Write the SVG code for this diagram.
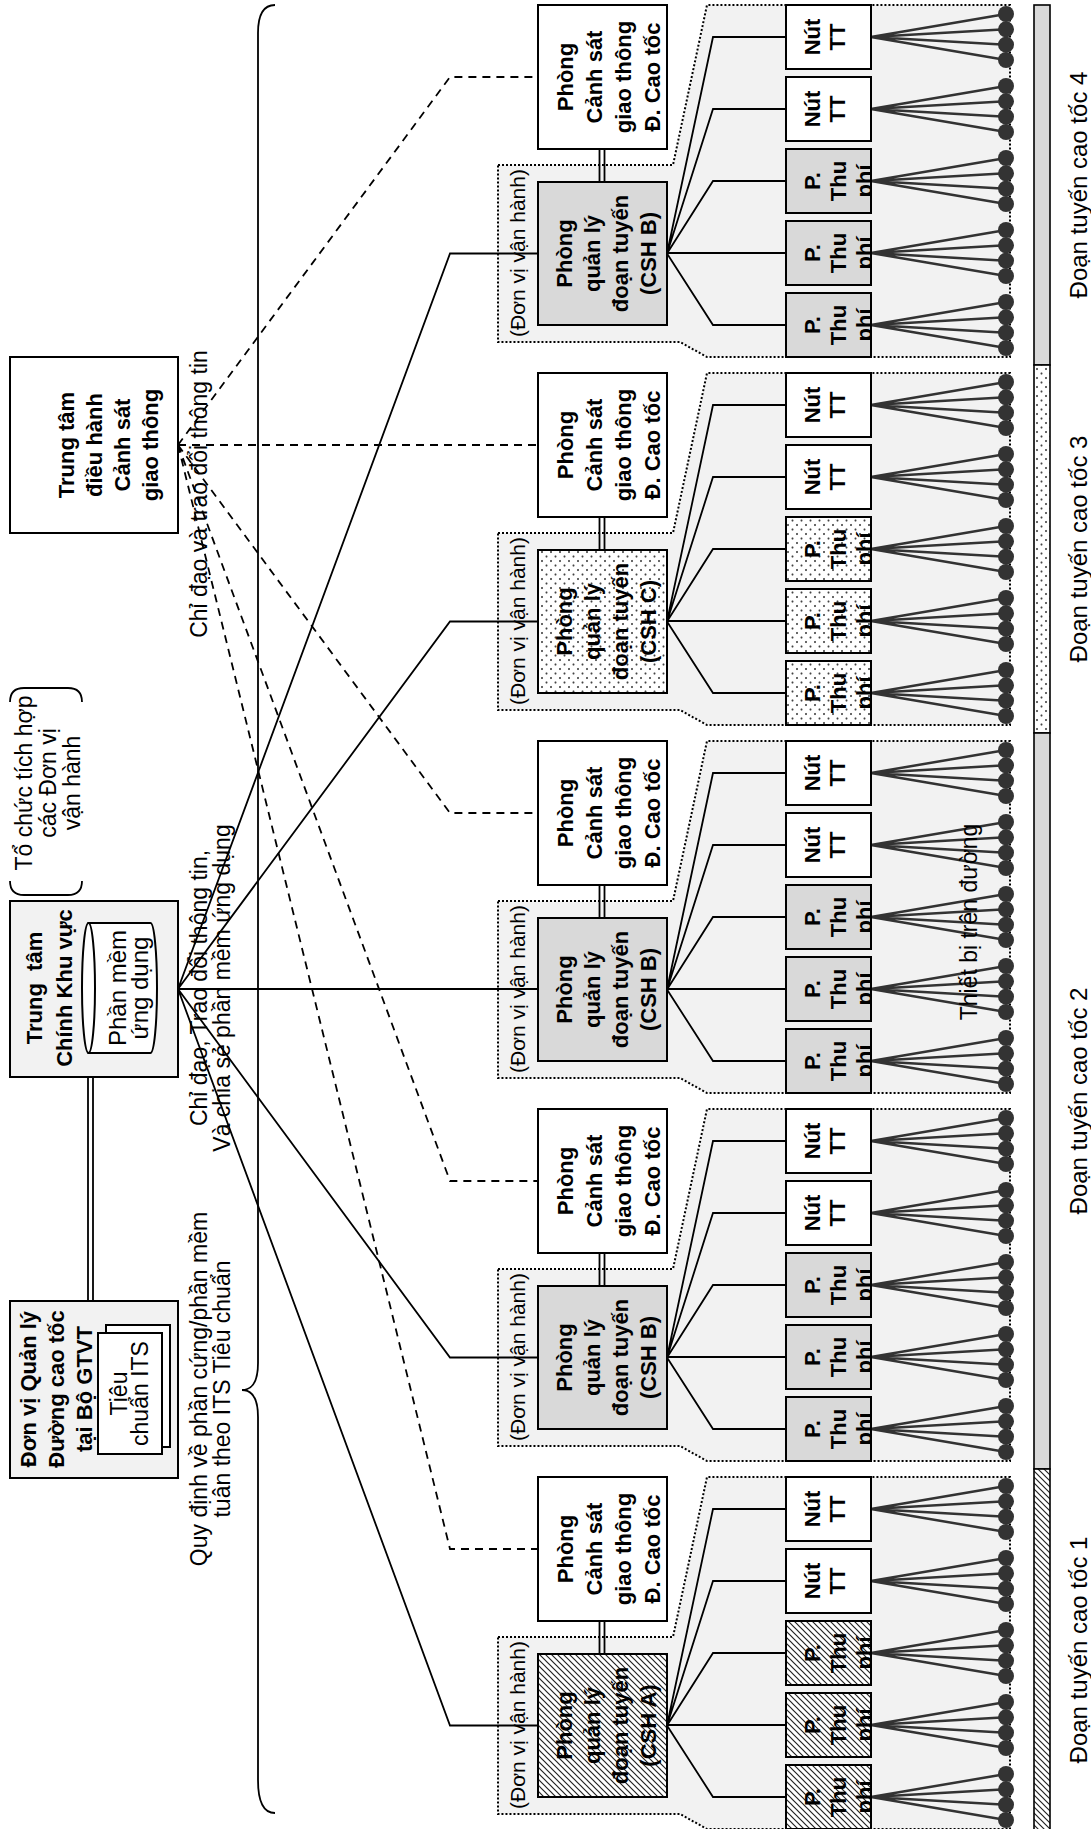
<svg xmlns="http://www.w3.org/2000/svg" width="1091" height="1829" viewBox="0 0 1091 1829">
<style>
text{font-family:"Liberation Sans",Arial,sans-serif;fill:#000;text-anchor:middle}
.b{font-size:22px;font-weight:bold}
.r{font-size:23px}
.r2{font-size:24px}
.s{font-size:21px}
.bx{stroke:#000;stroke-width:2}
.w{fill:#fff}
.g1{fill:#f2f2f2}
.g2{fill:#d9d9d9}
.ht{fill:url(#hatch)}
.dt{fill:url(#dots)}
.reg{fill:#f2f2f2;stroke:#000;stroke-width:2;stroke-dasharray:2 2}
.ln{fill:none;stroke:#000;stroke-width:1.8}
.da{stroke-dasharray:8 6}
.bar{stroke:#000;stroke-width:1.6}
</style>
<defs>
<pattern id="hatch" patternUnits="userSpaceOnUse" width="6" height="6">
<rect width="6" height="6" fill="#fff"/>
<path d="M0,6L6,0M-1.5,1.5L1.5,-1.5M4.5,7.5L7.5,4.5" stroke="#222" stroke-width="1.2"/>
</pattern>
<pattern id="dots" patternUnits="userSpaceOnUse" width="9" height="9">
<rect width="9" height="9" fill="#fff"/>
<circle cx="2" cy="2" r="1.1" fill="#444"/>
<circle cx="6.5" cy="6.5" r="1.1" fill="#444"/>
</pattern>
<clipPath id="devclip"><rect width="64" height="84"/></clipPath>
<g id="fan">
<path d="M32,85L9,220M32,85L24.3,220M32,85L39.7,220M32,85L55,220" stroke="#333" stroke-width="2.5" fill="none"/>
<circle cx="9" cy="220" r="8" fill="#333"/>
<circle cx="24.3" cy="220" r="8" fill="#333"/>
<circle cx="39.7" cy="220" r="8" fill="#333"/>
<circle cx="55" cy="220" r="8" fill="#333"/>
</g>
</defs>
<rect width="1091" height="1829" fill="#fff"/>
<g transform="matrix(0 -1 1 0 0 1829)">

<g id="sec-A" transform="translate(1472 0)">
<g id="unit-A"><polygon class="reg" points="192,498 192,673 352,707 352,1010 0,1010 0,707 15,680 15,498"/><text class="s" x="104" y="525">(Đơn vị vận hành)</text></g>
<g id="links-A"><path class="ln" d="M175,599.5H208M175,604.5H208M103.5,667L320,713V786M103.5,667L248,713V786M103.5,667L176,713V786M104,667V786M103.5,667L32,713V786"/>
<use href="#fan" x="288" y="786"/><use href="#fan" x="216" y="786"/><use href="#fan" x="144" y="786"/><use href="#fan" x="72" y="786"/><use href="#fan" x="0" y="786"/></g>
<g id="police-A"><rect class="bx w" x="208" y="538" width="144" height="129"/><text class="b" x="280" y="573">Phòng</text><text class="b" x="280" y="602">Cảnh sát</text><text class="b" x="280" y="631">giao thông</text><text class="b" x="280" y="660">Đ. Cao tốc</text></g>
<g id="mgmt-A"><rect class="bx g2" x="32" y="538" width="143" height="129"/><text class="b" x="103.5" y="572">Phòng</text><text class="b" x="103.5" y="600">quản lý</text><text class="b" x="103.5" y="628">đoạn tuyến</text><text class="b" x="103.5" y="656">(CSH B)</text></g>
<g id="A-n1" transform="translate(288 786)"><rect class="bx w" width="64" height="85"/><text class="b" x="32" y="34">Nút</text><text class="b" x="32" y="59">TT</text></g>
<g id="A-n2" transform="translate(216 786)"><rect class="bx w" width="64" height="85"/><text class="b" x="32" y="34">Nút</text><text class="b" x="32" y="59">TT</text></g>
<g id="A-p1" transform="translate(144 786)"><rect class="bx g2" width="64" height="85"/><g clip-path="url(#devclip)"><text class="b" x="32" y="34">P.</text><text class="b" x="32" y="60">Thu</text><text class="b" x="32" y="86">phí</text></g></g>
<g id="A-p2" transform="translate(72 786)"><rect class="bx g2" width="64" height="85"/><g clip-path="url(#devclip)"><text class="b" x="32" y="34">P.</text><text class="b" x="32" y="60">Thu</text><text class="b" x="32" y="86">phí</text></g></g>
<g id="A-p3" transform="translate(0 786)"><rect class="bx g2" width="64" height="85"/><g clip-path="url(#devclip)"><text class="b" x="32" y="34">P.</text><text class="b" x="32" y="60">Thu</text><text class="b" x="32" y="86">phí</text></g></g>
</g>

<g id="sec-B" transform="translate(1104 0)">
<g id="unit-B"><polygon class="reg" points="192,498 192,673 352,707 352,1010 0,1010 0,707 15,680 15,498"/><text class="s" x="104" y="525">(Đơn vị vận hành)</text></g>
<g id="links-B"><path class="ln" d="M175,599.5H208M175,604.5H208M103.5,667L320,713V786M103.5,667L248,713V786M103.5,667L176,713V786M104,667V786M103.5,667L32,713V786"/>
<use href="#fan" x="288" y="786"/><use href="#fan" x="216" y="786"/><use href="#fan" x="144" y="786"/><use href="#fan" x="72" y="786"/><use href="#fan" x="0" y="786"/></g>
<g id="police-B"><rect class="bx w" x="208" y="538" width="144" height="129"/><text class="b" x="280" y="573">Phòng</text><text class="b" x="280" y="602">Cảnh sát</text><text class="b" x="280" y="631">giao thông</text><text class="b" x="280" y="660">Đ. Cao tốc</text></g>
<g id="mgmt-B"><rect class="bx dt" x="32" y="538" width="143" height="129"/><text class="b" x="103.5" y="572">Phòng</text><text class="b" x="103.5" y="600">quản lý</text><text class="b" x="103.5" y="628">đoạn tuyến</text><text class="b" x="103.5" y="656">(CSH C)</text></g>
<g id="B-n1" transform="translate(288 786)"><rect class="bx w" width="64" height="85"/><text class="b" x="32" y="34">Nút</text><text class="b" x="32" y="59">TT</text></g>
<g id="B-n2" transform="translate(216 786)"><rect class="bx w" width="64" height="85"/><text class="b" x="32" y="34">Nút</text><text class="b" x="32" y="59">TT</text></g>
<g id="B-p1" transform="translate(144 786)"><rect class="bx dt" width="64" height="85"/><g clip-path="url(#devclip)"><text class="b" x="32" y="34">P.</text><text class="b" x="32" y="60">Thu</text><text class="b" x="32" y="86">phí</text></g></g>
<g id="B-p2" transform="translate(72 786)"><rect class="bx dt" width="64" height="85"/><g clip-path="url(#devclip)"><text class="b" x="32" y="34">P.</text><text class="b" x="32" y="60">Thu</text><text class="b" x="32" y="86">phí</text></g></g>
<g id="B-p3" transform="translate(0 786)"><rect class="bx dt" width="64" height="85"/><g clip-path="url(#devclip)"><text class="b" x="32" y="34">P.</text><text class="b" x="32" y="60">Thu</text><text class="b" x="32" y="86">phí</text></g></g>
</g>

<g id="sec-C" transform="translate(736 0)">
<g id="unit-C"><polygon class="reg" points="192,498 192,673 352,707 352,1010 0,1010 0,707 15,680 15,498"/><text class="s" x="104" y="525">(Đơn vị vận hành)</text></g>
<g id="links-C"><path class="ln" d="M175,599.5H208M175,604.5H208M103.5,667L320,713V786M103.5,667L248,713V786M103.5,667L176,713V786M104,667V786M103.5,667L32,713V786"/>
<use href="#fan" x="288" y="786"/><use href="#fan" x="216" y="786"/><use href="#fan" x="144" y="786"/><use href="#fan" x="72" y="786"/><use href="#fan" x="0" y="786"/></g>
<g id="police-C"><rect class="bx w" x="208" y="538" width="144" height="129"/><text class="b" x="280" y="573">Phòng</text><text class="b" x="280" y="602">Cảnh sát</text><text class="b" x="280" y="631">giao thông</text><text class="b" x="280" y="660">Đ. Cao tốc</text></g>
<g id="mgmt-C"><rect class="bx g2" x="32" y="538" width="143" height="129"/><text class="b" x="103.5" y="572">Phòng</text><text class="b" x="103.5" y="600">quản lý</text><text class="b" x="103.5" y="628">đoạn tuyến</text><text class="b" x="103.5" y="656">(CSH B)</text></g>
<g id="C-n1" transform="translate(288 786)"><rect class="bx w" width="64" height="85"/><text class="b" x="32" y="34">Nút</text><text class="b" x="32" y="59">TT</text></g>
<g id="C-n2" transform="translate(216 786)"><rect class="bx w" width="64" height="85"/><text class="b" x="32" y="34">Nút</text><text class="b" x="32" y="59">TT</text></g>
<g id="C-p1" transform="translate(144 786)"><rect class="bx g2" width="64" height="85"/><g clip-path="url(#devclip)"><text class="b" x="32" y="34">P.</text><text class="b" x="32" y="60">Thu</text><text class="b" x="32" y="86">phí</text></g></g>
<g id="C-p2" transform="translate(72 786)"><rect class="bx g2" width="64" height="85"/><g clip-path="url(#devclip)"><text class="b" x="32" y="34">P.</text><text class="b" x="32" y="60">Thu</text><text class="b" x="32" y="86">phí</text></g></g>
<g id="C-p3" transform="translate(0 786)"><rect class="bx g2" width="64" height="85"/><g clip-path="url(#devclip)"><text class="b" x="32" y="34">P.</text><text class="b" x="32" y="60">Thu</text><text class="b" x="32" y="86">phí</text></g></g>
</g>

<g id="sec-D" transform="translate(368 0)">
<g id="unit-D"><polygon class="reg" points="192,498 192,673 352,707 352,1010 0,1010 0,707 15,680 15,498"/><text class="s" x="104" y="525">(Đơn vị vận hành)</text></g>
<g id="links-D"><path class="ln" d="M175,599.5H208M175,604.5H208M103.5,667L320,713V786M103.5,667L248,713V786M103.5,667L176,713V786M104,667V786M103.5,667L32,713V786"/>
<use href="#fan" x="288" y="786"/><use href="#fan" x="216" y="786"/><use href="#fan" x="144" y="786"/><use href="#fan" x="72" y="786"/><use href="#fan" x="0" y="786"/></g>
<g id="police-D"><rect class="bx w" x="208" y="538" width="144" height="129"/><text class="b" x="280" y="573">Phòng</text><text class="b" x="280" y="602">Cảnh sát</text><text class="b" x="280" y="631">giao thông</text><text class="b" x="280" y="660">Đ. Cao tốc</text></g>
<g id="mgmt-D"><rect class="bx g2" x="32" y="538" width="143" height="129"/><text class="b" x="103.5" y="572">Phòng</text><text class="b" x="103.5" y="600">quản lý</text><text class="b" x="103.5" y="628">đoạn tuyến</text><text class="b" x="103.5" y="656">(CSH B)</text></g>
<g id="D-n1" transform="translate(288 786)"><rect class="bx w" width="64" height="85"/><text class="b" x="32" y="34">Nút</text><text class="b" x="32" y="59">TT</text></g>
<g id="D-n2" transform="translate(216 786)"><rect class="bx w" width="64" height="85"/><text class="b" x="32" y="34">Nút</text><text class="b" x="32" y="59">TT</text></g>
<g id="D-p1" transform="translate(144 786)"><rect class="bx g2" width="64" height="85"/><g clip-path="url(#devclip)"><text class="b" x="32" y="34">P.</text><text class="b" x="32" y="60">Thu</text><text class="b" x="32" y="86">phí</text></g></g>
<g id="D-p2" transform="translate(72 786)"><rect class="bx g2" width="64" height="85"/><g clip-path="url(#devclip)"><text class="b" x="32" y="34">P.</text><text class="b" x="32" y="60">Thu</text><text class="b" x="32" y="86">phí</text></g></g>
<g id="D-p3" transform="translate(0 786)"><rect class="bx g2" width="64" height="85"/><g clip-path="url(#devclip)"><text class="b" x="32" y="34">P.</text><text class="b" x="32" y="60">Thu</text><text class="b" x="32" y="86">phí</text></g></g>
</g>

<g id="sec-E" transform="translate(0 0)">
<g id="unit-E"><polygon class="reg" points="192,498 192,673 352,707 352,1010 0,1010 0,707 15,680 15,498"/><text class="s" x="104" y="525">(Đơn vị vận hành)</text></g>
<g id="links-E"><path class="ln" d="M175,599.5H208M175,604.5H208M103.5,667L320,713V786M103.5,667L248,713V786M103.5,667L176,713V786M104,667V786M103.5,667L32,713V786"/>
<use href="#fan" x="288" y="786"/><use href="#fan" x="216" y="786"/><use href="#fan" x="144" y="786"/><use href="#fan" x="72" y="786"/><use href="#fan" x="0" y="786"/></g>
<g id="police-E"><rect class="bx w" x="208" y="538" width="144" height="129"/><text class="b" x="280" y="573">Phòng</text><text class="b" x="280" y="602">Cảnh sát</text><text class="b" x="280" y="631">giao thông</text><text class="b" x="280" y="660">Đ. Cao tốc</text></g>
<g id="mgmt-E"><rect class="bx ht" x="32" y="538" width="143" height="129"/><text class="b" x="103.5" y="572">Phòng</text><text class="b" x="103.5" y="600">quản lý</text><text class="b" x="103.5" y="628">đoạn tuyến</text><text class="b" x="103.5" y="656">(CSH A)</text></g>
<g id="E-n1" transform="translate(288 786)"><rect class="bx w" width="64" height="85"/><text class="b" x="32" y="34">Nút</text><text class="b" x="32" y="59">TT</text></g>
<g id="E-n2" transform="translate(216 786)"><rect class="bx w" width="64" height="85"/><text class="b" x="32" y="34">Nút</text><text class="b" x="32" y="59">TT</text></g>
<g id="E-p1" transform="translate(144 786)"><rect class="bx ht" width="64" height="85"/><g clip-path="url(#devclip)"><text class="b" x="32" y="34">P.</text><text class="b" x="32" y="60">Thu</text><text class="b" x="32" y="86">phí</text></g></g>
<g id="E-p2" transform="translate(72 786)"><rect class="bx ht" width="64" height="85"/><g clip-path="url(#devclip)"><text class="b" x="32" y="34">P.</text><text class="b" x="32" y="60">Thu</text><text class="b" x="32" y="86">phí</text></g></g>
<g id="E-p3" transform="translate(0 786)"><rect class="bx ht" width="64" height="85"/><g clip-path="url(#devclip)"><text class="b" x="32" y="34">P.</text><text class="b" x="32" y="60">Thu</text><text class="b" x="32" y="86">phí</text></g></g>
</g>

<g id="connectors">
<path class="ln" d="M840,178L1575.5,450V538M840,178L1207.5,450V538M840,178V538M840,178L471.5,450V538M840,178L103.5,450V538"/>
<path class="ln da" d="M1384,178L1752,450V538M1384,178V538M1384,178L1016,450V538M1384,178L648,450V538M1384,178L280,450V538"/>
<path class="ln" d="M528,88H752M528,93H752"/>
<path id="brace" class="ln" d="M1824,275Q1824,258 1796,258L466,258Q439,258 439,242Q439,258 412,258L49,258Q16,258 16,275"/>
<path id="paren" class="ln" d="M1127,10Q1141,10 1141,24V68Q1141,82 1127,82M948,10Q934,10 934,24V68Q934,82 948,82"/>
</g>

<g id="police-center"><rect class="bx w" x="1296" y="10" width="176" height="168"/><text class="b" x="1384" y="74">Trung tâm</text><text class="b" x="1384" y="102">điều hành</text><text class="b" x="1384" y="130">Cảnh sát</text><text class="b" x="1384" y="158">giao thông</text></g>
<g id="regional-center"><rect class="bx g1" x="752" y="10" width="176" height="168"/><text class="b" x="841" y="42">Trung&#160; tâm</text><text class="b" x="841" y="72">Chính Khu vực</text>
<path class="bx w" d="M776,88.5V150.5A65,6.5 0 0 0 906,150.5V88.5Z"/><ellipse class="bx w" cx="841" cy="88.5" rx="65" ry="6.5"/>
<text class="r2" x="841" y="126">Phần mềm</text><text class="r2" x="841" y="148">ứng dụng</text></g>
<g id="ministry"><rect class="bx g1" x="351" y="10" width="177" height="168"/><text class="b" x="440" y="36">Đơn vị Quản lý</text><text class="b" x="440" y="64">Đường cao tốc</text><text class="b" x="440" y="92">tại Bộ GTVT</text>
<rect class="bx w" x="382" y="106" width="122" height="64"/><rect class="bx w" x="375" y="98" width="121" height="64"/>
<text class="r" x="435.5" y="127">Tiêu</text><text class="r" x="435.5" y="148">chuẩn ITS</text></g>

<g id="labels">
<text class="r" x="440" y="207">Quy định về phần cứng/phần mềm</text>
<text class="r" x="440" y="230">tuân theo ITS Tiêu chuẩn</text>
<text class="r" x="841" y="207">Chỉ đạo, Trao đổi thông tin,</text>
<text class="r" x="841" y="230">Và chia sẻ phần mềm ứng dụng</text>
<text class="r" x="1335" y="207">Chỉ đạo và trao đổi thông tin</text>
<text class="r" x="1046" y="32">Tổ chức tích hợp</text>
<text class="r" x="1046" y="56">các Đơn vị</text>
<text class="r" x="1046" y="80">vận hành</text>
<text class="r" x="907" y="977">Thiết bị trên đường</text>
</g>

<g id="segments">
<rect class="bar g2" x="1464" y="1034" width="360" height="16"/>
<rect class="bar dt" x="1096" y="1034" width="368" height="16"/>
<rect class="bar g2" x="360" y="1034" width="736" height="16"/>
<rect class="bar ht" x="-2" y="1034" width="362" height="16"/>
<text class="r2" x="1644" y="1087">Đoạn tuyến cao tốc 4</text>
<text class="r2" x="1280" y="1087">Đoạn tuyến cao tốc 3</text>
<text class="r2" x="728" y="1087">Đoạn tuyến cao tốc 2</text>
<text class="r2" x="179" y="1087">Đoạn tuyến cao tốc 1</text>
</g>
</g>
</svg>
